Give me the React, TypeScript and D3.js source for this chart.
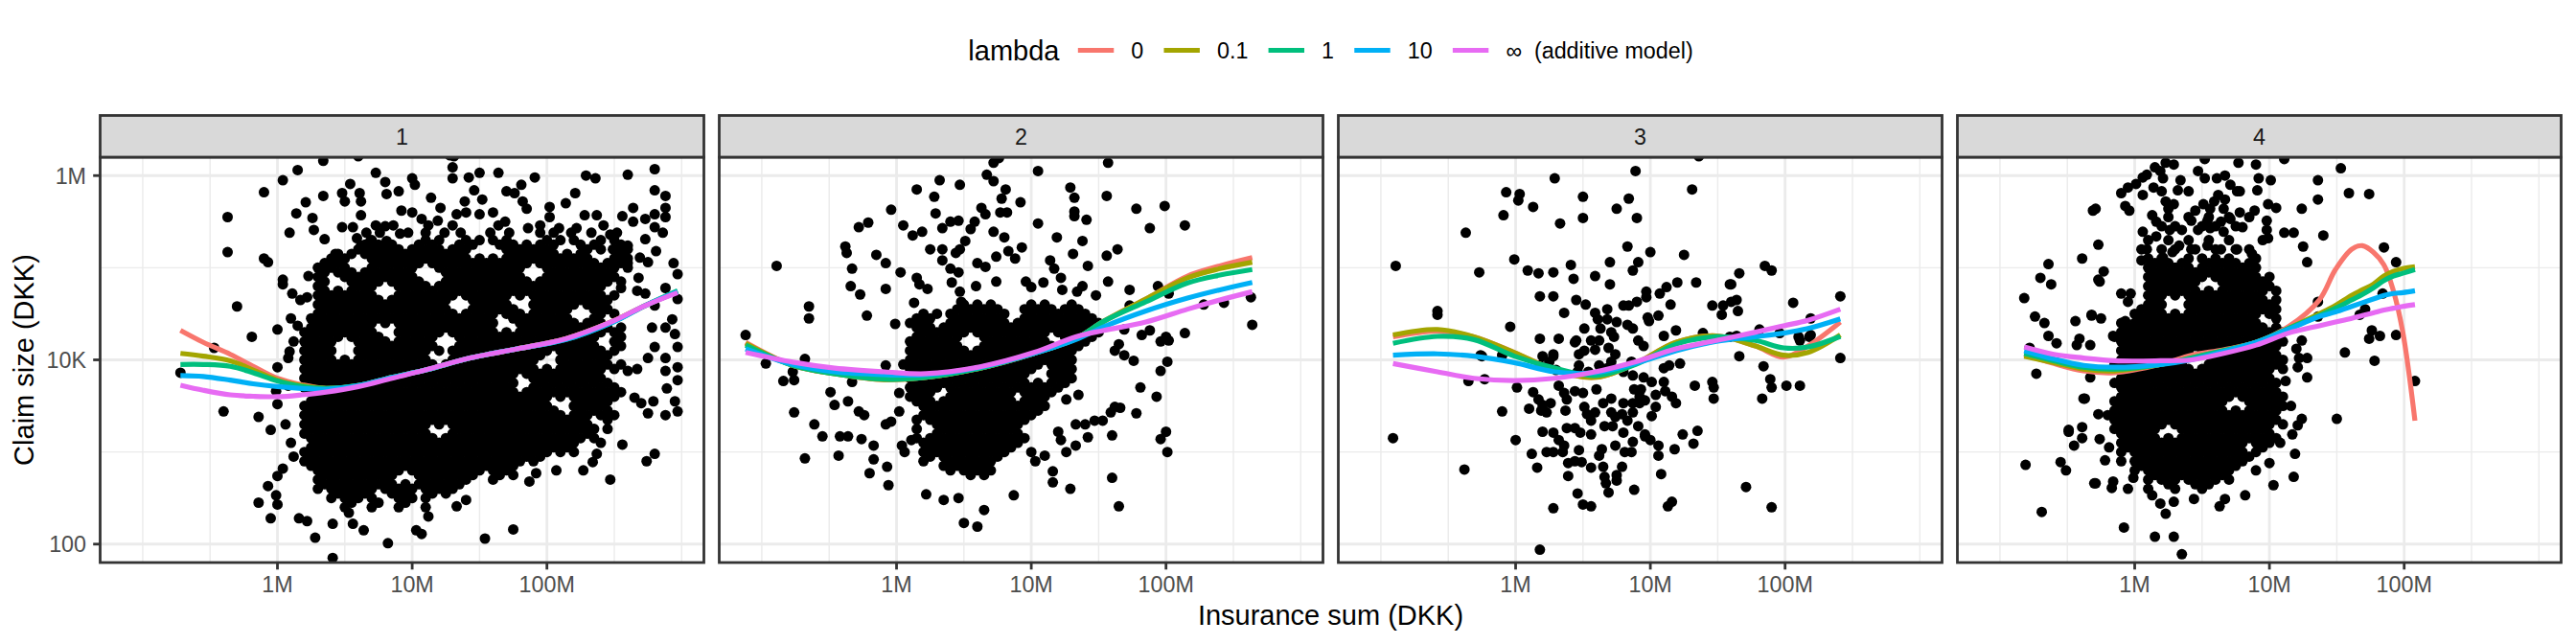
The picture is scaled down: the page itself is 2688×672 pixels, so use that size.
import { useEffect, useRef } from "react";
import * as d3 from "d3";

// Facets, legend and axis ticks
const facetLabels = ["1", "2", "3", "4"];
const lambdaLabels = ["0", "0.1", "1", "10", "\u221e\u00a0 (additive model)"];
const lambdaColors = ["#F8766D", "#A3A500", "#00BF7D", "#00B0F6", "#E76BF3"];

const xMajor = [6, 7, 8];
const xMajorLabels = ["1M", "10M", "100M"];
const xMinor = [5, 5.5, 6.5, 7.5, 8.5, 9];
const yMajor = [2, 4, 6];
const yMajorLabels = ["100", "10K", "1M"];
const yMinor = [3, 5];

// log10(insurance sum), log10(claim size)
type Pt = [number, number];
type Row = [number, number[]];

const loose1: Pt[] = [
  [5.28,3.86],[5.53,4.13],[5.60,3.44],[5.63,5.55],[5.63,5.17],[5.70,4.58],[5.81,4.25],[5.86,3.38],[5.90,5.82],[5.86,2.45],
  [5.95,2.28],[5.95,3.24],[6.00,4.33],[6.04,5.95],[6.15,6.06],[6.34,6.16],[6.28,2.07],[6.41,1.85],[6.16,2.28],[6.60,6.21],
  [7.28,6.22],[6.21,5.71],[6.14,5.59],[6.09,5.38],[6.34,5.78],[6.26,5.54],[6.54,5.91],[6.48,5.81],[6.61,5.81],[6.62,5.72],
  [6.73,6.03],[6.80,5.93],[6.81,5.80],[6.90,5.83],[7.00,5.97],[7.02,5.90],[7.14,5.76],[7.21,5.65],[7.30,6.09],[7.30,5.97],
  [7.31,6.21],[7.42,5.98],[7.50,6.03],[7.64,6.03],[7.46,5.84],[7.39,5.72],[7.52,5.74],[7.70,5.83],[7.76,5.81],[7.81,5.90],
  [7.82,5.72],[7.85,5.64],[7.91,5.98],[8.02,5.66],[8.14,5.70],[8.21,5.81],[8.29,6.00],[8.36,5.97],[8.60,6.01],[8.80,6.07],
  [8.80,5.84],[8.88,5.78],[8.88,5.65],[8.88,5.55],[8.64,5.65],[8.56,5.56],[8.28,5.57],[8.37,5.57],[8.80,5.58],[8.73,5.53],
  [8.86,5.38],[8.94,5.05],[8.97,4.93],[8.60,5.05],[8.88,4.78],[8.68,4.89],[8.55,4.78],[8.67,4.75],[8.73,4.72],[8.97,4.66],
  [8.80,4.59],[8.93,4.44],[8.88,4.35],[8.78,4.35],[8.95,4.28],[8.97,4.14],[8.80,4.14],[8.88,4.02],[8.75,4.02],[8.97,3.92],
  [8.88,3.88],[8.97,3.78],[8.89,3.69],[8.95,3.55],[8.97,3.44],[8.88,3.40],[8.75,3.42],[8.79,3.55],[8.65,3.59],[8.70,3.53],
  [8.60,3.88],[8.67,3.90],[8.56,3.08],[8.74,2.90],[8.80,2.98],[8.47,2.70],[8.27,2.80],[8.34,2.89],[8.37,2.98],[8.07,2.80],
  [7.92,2.77],[7.87,2.68],[7.75,2.16],[7.54,2.06],[7.33,2.41],[7.40,2.48],[7.07,2.11],[7.03,2.15],[7.12,2.30],[6.82,2.01],
  [6.64,2.15],[6.56,2.22],[6.53,2.34],[6.41,2.22],[6.22,2.25],[5.99,2.53],[6.00,2.43],[5.93,2.63],[6.00,2.74],[6.04,2.82],
  [6.00,3.52],[5.99,3.66],[6.00,3.92],[6.09,4.09],[6.08,4.02],[5.90,5.10],[5.93,5.06],[6.04,4.87],[6.04,4.82],[6.11,4.72],
  [6.22,4.68],[6.17,4.65],[6.10,4.45],[6.15,4.37],[6.23,4.91],[6.30,4.42],[6.34,4.98],[6.43,5.15],[6.35,5.31],[6.27,5.41],
  [6.48,5.44],[6.56,5.44],[6.59,5.32],[6.62,5.24],[6.69,5.29],[6.73,5.46],[6.80,5.45],[6.86,5.46],[6.91,5.37],[6.81,5.29],
  [6.81,5.17],[6.62,5.57],[6.50,5.72],[6.92,5.62],[7.00,5.60],[7.07,5.53],[7.19,5.51],[7.33,5.58],[7.40,5.60],[7.50,5.58],
  [7.60,5.60],[7.69,5.50],[7.86,5.43],[8.02,5.55],[8.09,5.43],[8.22,5.43],[8.47,5.36],[8.49,5.20],[8.60,5.24],[8.73,5.31],
  [8.80,5.44],[8.64,5.50],[8.75,5.06],[8.69,5.11],[8.81,5.18],[6.06,3.30],[6.10,3.10],[6.12,2.95],[6.08,3.72],[6.12,4.20],
];

// dense part of facet 1: one list of log10(sum) per log10(claim) level
const rows1: Row[] = [
  [5.46, [7.12,7.30,7.64,7.95,8.42]],
  [5.38, [6.66,6.76,6.97,7.10,7.24,7.36,7.58,7.72,7.95,8.05,8.18,8.33,8.52]],
  [5.30, [6.70,7.10,7.20,7.40,7.50,7.60,7.70,8.00,8.10,8.20,8.40,8.50]],
  [5.25, [6.65,6.75,6.85,7.05,7.15,7.35,7.45,7.65,7.75,7.85,7.95,8.05,8.25,8.35,8.55]],
  [5.20, [6.60,6.70,6.80,6.90,7.00,7.10,7.20,7.30,7.40,7.70,7.80,7.90,8.00,8.30,8.40,8.50,8.60]],
  [5.15, [6.45,6.55,6.65,6.75,6.85,6.95,7.05,7.15,7.25,7.35,7.75,7.85,7.95,8.05,8.15,8.25,8.55]],
  [5.10, [6.40,6.50,6.70,6.80,6.90,7.00,7.10,7.20,7.30,7.40,7.50,7.60,7.70,7.80,7.90,8.00,8.10,8.20,8.30,8.50,8.60]],
  [5.05, [6.35,6.45,6.75,6.85,6.95,7.05,7.15,7.25,7.35,7.45,7.55,7.65,7.75,7.85,7.95,8.05,8.15,8.25,8.35,8.45,8.55]],
  [5.00, [6.30,6.40,6.50,6.70,6.80,6.90,7.00,7.20,7.30,7.40,7.50,7.60,7.70,7.80,8.00,8.10,8.20,8.30,8.40,8.50,8.60]],
  [4.95, [6.35,6.45,6.55,6.65,6.75,6.85,6.95,7.25,7.35,7.45,7.55,7.65,7.75,8.05,8.15,8.25,8.35,8.45]],
  [4.90, [6.30,6.50,6.60,6.70,6.80,6.90,7.00,7.30,7.40,7.50,7.60,7.70,7.80,8.00,8.10,8.20,8.30,8.40,8.50]],
  [4.85, [6.35,6.55,6.65,6.75,6.85,6.95,7.05,7.25,7.35,7.45,7.55,7.65,7.75,7.85,7.95,8.05,8.15,8.25,8.35,8.45,8.55]],
  [4.80, [6.30,6.60,6.70,6.90,7.00,7.10,7.20,7.30,7.40,7.50,7.60,7.70,7.80,7.90,8.00,8.10,8.20,8.30,8.40]],
  [4.75, [6.35,6.45,6.55,6.65,6.95,7.05,7.15,7.25,7.35,7.45,7.55,7.65,7.75,7.85,7.95,8.05,8.15,8.25,8.35]],
  [4.70, [6.30,6.40,6.50,6.60,6.70,6.90,7.00,7.10,7.20,7.30,7.40,7.50,7.60,7.70,7.80,7.90,8.00,8.10,8.20,8.30,8.40,8.50]],
  [4.65, [6.35,6.45,6.55,6.65,6.75,6.85,6.95,7.05,7.15,7.25,7.45,7.55,7.65,7.95,8.05,8.15,8.25,8.35,8.45]],
  [4.60, [6.30,6.40,6.50,6.60,6.70,6.80,6.90,7.00,7.10,7.20,7.50,7.60,7.70,7.90,8.00,8.10,8.20,8.30,8.40]],
  [4.55, [6.35,6.45,6.55,6.65,6.75,6.85,6.95,7.05,7.15,7.25,7.45,7.55,7.65,7.75,7.95,8.05,8.15,8.35,8.45]],
  [4.50, [6.30,6.40,6.50,6.60,6.70,6.80,6.90,7.00,7.10,7.20,7.30,7.40,7.50,7.60,7.70,7.80,7.90,8.00,8.10,8.40,8.50]],
  [4.45, [6.25,6.35,6.45,6.55,6.65,6.75,6.85,6.95,7.05,7.15,7.25,7.35,7.45,7.55,7.75,7.85,7.95,8.05,8.15,8.35]],
  [4.40, [6.30,6.40,6.50,6.60,6.70,6.80,6.90,7.00,7.10,7.20,7.30,7.40,7.50,7.60,7.80,7.90,8.00,8.10,8.20,8.30,8.40]],
  [4.35, [6.25,6.35,6.45,6.55,6.65,6.95,7.05,7.15,7.25,7.35,7.45,7.55,7.85,7.95,8.05,8.15,8.25,8.35,8.45,8.55]],
  [4.30, [6.20,6.30,6.40,6.50,6.60,6.70,6.90,7.00,7.10,7.20,7.30,7.40,7.50,7.60,7.70,7.80,7.90,8.00,8.10,8.20,8.30,8.40,8.50]],
  [4.25, [6.25,6.35,6.45,6.55,6.65,6.75,6.95,7.05,7.15,7.35,7.45,7.55,7.65,7.75,7.85,7.95,8.05,8.15,8.25,8.35,8.55]],
  [4.20, [6.20,6.30,6.40,6.60,6.70,6.80,6.90,7.00,7.10,7.40,7.50,7.60,7.70,7.80,7.90,8.00,8.10,8.20,8.30,8.50]],
  [4.15, [6.25,6.35,6.65,6.75,6.85,6.95,7.05,7.15,7.35,7.45,7.55,7.65,7.75,7.85,7.95,8.05,8.15,8.25,8.35,8.55]],
  [4.10, [6.20,6.30,6.40,6.60,6.70,6.80,6.90,7.00,7.10,7.20,7.30,7.40,7.50,7.60,7.70,7.80,7.90,8.00,8.10,8.20,8.30,8.40,8.50]],
  [4.05, [6.25,6.35,6.65,6.75,6.85,6.95,7.05,7.35,7.45,7.55,7.65,7.75,7.85,7.95,8.15,8.25,8.35,8.45]],
  [4.00, [6.20,6.30,6.40,6.50,6.60,6.70,6.80,6.90,7.00,7.10,7.30,7.40,7.50,7.60,7.70,7.80,7.90,8.10,8.20,8.30,8.40]],
  [3.95, [6.25,6.35,6.45,6.55,6.65,6.75,6.85,6.95,7.05,7.15,7.25,7.35,7.45,7.55,7.65,7.75,7.85,8.15,8.25,8.35,8.45,8.55]],
  [3.90, [6.20,6.30,6.40,6.50,6.60,6.70,6.80,6.90,7.00,7.10,7.20,7.30,7.40,7.50,7.60,7.70,7.80,7.90,8.00,8.10,8.20,8.30,8.40,8.50]],
  [3.85, [6.25,6.35,6.45,6.55,6.65,6.75,6.85,6.95,7.05,7.15,7.25,7.35,7.45,7.55,7.65,7.75,7.85,7.95,8.05,8.15,8.25,8.35]],
  [3.80, [6.20,6.30,6.40,6.50,6.60,6.70,6.80,6.90,7.00,7.10,7.20,7.30,7.40,7.50,7.60,7.70,7.90,8.00,8.10,8.20,8.30,8.40]],
  [3.75, [6.25,6.35,6.45,6.55,6.65,6.75,6.85,6.95,7.05,7.15,7.25,7.35,7.45,7.55,7.65,7.75,7.95,8.05,8.15,8.25,8.35,8.45]],
  [3.70, [6.20,6.30,6.40,6.50,6.60,6.70,6.80,6.90,7.00,7.10,7.20,7.30,7.40,7.50,7.60,7.70,7.90,8.00,8.10,8.20,8.30,8.40,8.50]],
  [3.65, [6.25,6.35,6.45,6.55,6.65,6.75,6.85,6.95,7.05,7.15,7.25,7.35,7.45,7.55,7.65,7.75,7.85,7.95,8.05,8.15,8.25,8.35,8.45,8.55]],
  [3.60, [6.30,6.40,6.50,6.60,6.70,6.80,6.90,7.00,7.10,7.20,7.30,7.40,7.50,7.60,7.70,7.80,7.90,8.00,8.10,8.20,8.30,8.40,8.50]],
  [3.55, [6.25,6.35,6.45,6.55,6.65,6.75,6.85,6.95,7.05,7.15,7.25,7.35,7.45,7.55,7.65,7.75,7.85,7.95,8.25,8.35,8.45]],
  [3.50, [6.20,6.30,6.40,6.50,6.60,6.70,6.80,6.90,7.00,7.10,7.20,7.30,7.40,7.50,7.60,7.70,7.80,7.90,8.00,8.20,8.30,8.40]],
  [3.45, [6.25,6.35,6.45,6.55,6.65,6.75,6.85,6.95,7.05,7.15,7.25,7.35,7.45,7.55,7.65,7.75,7.85,7.95,8.05,8.25,8.35,8.45]],
  [3.40, [6.20,6.30,6.40,6.50,6.60,6.70,6.80,6.90,7.00,7.10,7.20,7.30,7.40,7.50,7.60,7.70,7.80,7.90,8.00,8.10,8.20,8.30,8.40,8.50]],
  [3.35, [6.25,6.35,6.45,6.55,6.65,6.75,6.85,6.95,7.05,7.15,7.25,7.35,7.45,7.55,7.65,7.75,7.85,7.95,8.05,8.15,8.25,8.45]],
  [3.30, [6.20,6.30,6.40,6.50,6.60,6.70,6.80,6.90,7.00,7.10,7.20,7.30,7.40,7.50,7.60,7.70,7.80,7.90,8.00,8.10,8.20,8.30]],
  [3.25, [6.25,6.35,6.45,6.55,6.65,6.75,6.85,6.95,7.05,7.35,7.45,7.55,7.65,7.75,7.85,7.95,8.05,8.15,8.25,8.35,8.45]],
  [3.20, [6.20,6.30,6.40,6.50,6.60,6.70,6.80,6.90,7.00,7.10,7.30,7.40,7.50,7.60,7.70,7.80,7.90,8.00,8.10,8.20,8.30]],
  [3.15, [6.25,6.35,6.45,6.55,6.65,6.75,6.85,6.95,7.05,7.15,7.25,7.35,7.45,7.55,7.65,7.75,7.85,7.95,8.05,8.15,8.25,8.35]],
  [3.10, [6.30,6.40,6.50,6.60,6.70,6.80,6.90,7.00,7.10,7.20,7.30,7.40,7.50,7.60,7.70,7.80,7.90,8.00,8.10,8.20,8.40]],
  [3.05, [6.25,6.35,6.45,6.55,6.65,6.75,6.85,6.95,7.05,7.15,7.25,7.35,7.45,7.55,7.65,7.75,7.85,7.95,8.05,8.15]],
  [3.00, [6.20,6.30,6.40,6.50,6.60,6.70,6.80,6.90,7.00,7.10,7.20,7.30,7.40,7.50,7.60,7.70,7.80,7.90,8.00,8.10,8.20]],
  [2.95, [6.25,6.35,6.45,6.55,6.65,6.75,6.85,6.95,7.05,7.15,7.25,7.35,7.45,7.55,7.65,7.75,7.85,7.95]],
  [2.90, [6.20,6.30,6.40,6.50,6.60,6.70,6.80,6.90,7.00,7.10,7.20,7.30,7.40,7.50,7.60,7.70,7.80,7.90]],
  [2.85, [6.25,6.35,6.45,6.55,6.65,6.75,6.85,6.95,7.05,7.15,7.25,7.35,7.45,7.55,7.65,7.75]],
  [2.80, [6.30,6.40,6.50,6.60,6.70,6.80,6.90,7.00,7.10,7.20,7.30,7.40,7.50,7.60,7.70]],
  [2.75, [6.35,6.45,6.55,6.65,6.75,6.85,7.05,7.15,7.25,7.35,7.45,7.65,7.75]],
  [2.70, [6.30,6.40,6.50,6.60,6.70,6.80,7.10,7.20,7.30,7.40,7.60]],
  [2.65, [6.35,6.45,6.55,6.65,6.75,6.85,6.95,7.05,7.15,7.25,7.35]],
  [2.60, [6.30,6.40,6.50,6.60,6.70,6.80,6.90,7.00,7.10,7.20,7.30]],
  [2.55, [6.45,6.55,6.65,6.85,6.95,7.15,7.25]],
  [2.50, [6.40,6.50,6.60,6.70,6.90,7.00,7.10]],
  [2.45, [6.55,6.75,6.95]],
  [2.40, [6.50,6.70,6.90,7.10]],
];

const loose2: Pt[] = [
  [6.72,6.14],[6.76,6.19],[7.57,6.14],[7.05,6.05],[6.67,6.01],[6.72,5.94],[6.32,5.95],[6.47,5.90],[6.15,5.85],[6.28,5.77],
  [6.81,5.85],[6.78,5.75],[6.77,5.60],[6.82,5.60],[6.92,5.71],[7.29,5.87],[7.32,5.76],[7.56,5.78],[7.78,5.64],[7.99,5.67],
  [5.96,5.63],[6.29,5.59],[6.63,5.65],[6.66,5.58],[7.32,5.61],[7.32,5.56],[7.41,5.52],[6.46,5.51],[6.40,5.50],[6.34,5.43],
  [6.05,5.46],[5.72,5.44],[5.79,5.49],[6.12,5.35],[6.19,5.39],[6.55,5.42],[6.58,5.50],[6.72,5.39],[6.80,5.33],[7.05,5.48],
  [7.19,5.33],[7.88,5.43],[8.14,5.46],[6.51,5.29],[6.44,5.16],[6.47,5.20],[6.25,5.20],[6.34,5.20],[5.62,5.23],[5.63,5.16],
  [5.85,5.14],[5.92,5.05],[5.67,4.99],[5.11,5.02],[6.03,4.95],[6.34,5.08],[6.40,4.99],[6.46,4.95],[6.60,5.05],[6.66,5.01],
  [6.74,5.12],[6.83,5.18],[6.88,5.10],[6.93,5.22],[7.14,5.08],[7.17,4.99],[7.31,5.15],[7.38,5.29],[7.42,5.02],[7.56,5.13],
  [7.64,5.20],[7.57,4.85],[7.38,4.80],[5.66,4.80],[5.73,4.71],[5.92,4.77],[6.15,4.89],[6.17,4.82],[6.13,4.62],[6.23,4.77],
  [6.41,4.84],[6.47,4.74],[6.48,4.63],[6.59,4.80],[6.74,4.85],[6.96,4.85],[7.00,4.79],[7.09,4.84],[7.22,4.89],[7.23,4.76],
  [7.34,4.74],[7.48,4.70],[7.73,4.76],[7.94,4.80],[8.02,4.72],[5.35,4.58],[5.35,4.45],[5.78,4.48],[5.99,4.39],[8.28,4.60],
  [8.43,4.62],[8.63,4.68],[8.64,4.38],[8.14,4.29],[8.00,4.25],[8.02,4.21],[7.96,4.20],[7.82,4.27],[7.88,4.32],[7.69,4.33],
  [7.65,4.17],[7.73,4.59],[7.62,4.10],[7.69,4.05],[7.76,3.99],[8.01,3.98],[7.96,3.88],[7.81,3.70],[7.93,3.60],[7.78,3.42],
  [7.66,3.48],[7.59,3.43],[7.53,3.34],[7.60,3.18],[7.47,3.34],[8.00,3.22],[7.96,3.14],[8.01,3.00],[7.60,2.72],[7.65,2.41],
  [7.29,2.60],[7.16,2.67],[7.16,2.79],[6.87,2.53],[6.65,2.37],[6.60,2.19],[6.50,2.23],[6.35,2.48],[6.46,2.50],[6.22,2.54],
  [5.94,2.64],[5.93,2.84],[5.83,2.92],[5.80,2.77],[5.83,3.07],[5.57,2.96],[5.32,2.93],[5.45,3.17],[5.58,3.17],[5.64,3.17],
  [5.74,3.14],[5.39,3.30],[5.24,3.43],[5.54,3.51],[5.64,3.55],[5.72,3.44],[5.76,3.40],[5.51,3.65],[5.16,3.77],[5.24,3.78],
  [5.23,3.87],[5.32,4.01],[5.03,3.96],[4.88,4.27],[5.67,3.76],[5.92,3.94],[5.92,3.30],[5.96,3.33],[6.02,3.44],[6.02,3.64],
  [6.04,3.07],[6.11,3.13],[6.06,3.00],[7.03,2.90],[7.00,3.00],[7.10,2.96],[7.26,3.00],[7.33,3.07],[7.42,3.16],[7.22,3.13],
  [7.20,3.22],[7.33,3.30],[7.40,3.30],[7.62,3.49],[7.35,3.62],[7.26,3.57],
];

const rows2: Row[] = [
  [4.60, [6.50,6.60,6.70,7.00,7.10,7.30]],
  [4.55, [6.45,6.55,6.65,6.75,6.95,7.05,7.15,7.25,7.35]],
  [4.50, [6.20,6.30,6.40,6.50,6.60,6.70,6.80,7.00,7.10,7.20,7.30,7.40]],
  [4.45, [6.15,6.25,6.45,6.55,6.65,6.75,6.95,7.05,7.15,7.25,7.35,7.45]],
  [4.40, [6.10,6.20,6.40,6.50,6.60,6.70,6.80,6.90,7.00,7.10,7.20,7.30,7.40,7.50]],
  [4.35, [6.15,6.25,6.35,6.45,6.55,6.65,6.75,6.85,6.95,7.05,7.15,7.25,7.35,7.45]],
  [4.30, [6.20,6.30,6.40,6.50,6.60,6.70,6.80,6.90,7.00,7.10,7.20,7.30,7.40,7.50]],
  [4.25, [6.15,6.25,6.35,6.45,6.65,6.75,6.85,6.95,7.05,7.25,7.35,7.45]],
  [4.20, [6.10,6.20,6.30,6.40,6.70,6.80,6.90,7.00,7.10,7.30,7.40]],
  [4.15, [6.15,6.25,6.35,6.45,6.65,6.75,6.85,6.95,7.05,7.15,7.25,7.35]],
  [4.10, [6.10,6.20,6.30,6.40,6.50,6.60,6.70,6.80,6.90,7.00,7.10,7.20,7.30]],
  [4.05, [6.15,6.25,6.35,6.45,6.55,6.65,6.75,6.85,6.95,7.05,7.15,7.25]],
  [4.00, [6.10,6.20,6.30,6.40,6.50,6.60,6.70,6.80,6.90,7.00,7.10,7.20,7.30]],
  [3.95, [6.05,6.15,6.25,6.35,6.45,6.55,6.65,6.75,6.85,6.95,7.05,7.15,7.25]],
  [3.90, [6.10,6.20,6.30,6.40,6.50,6.60,6.70,6.80,6.90,7.00,7.20,7.30]],
  [3.85, [6.15,6.25,6.35,6.45,6.55,6.65,6.75,6.85,6.95,7.15,7.25]],
  [3.80, [6.10,6.20,6.30,6.40,6.50,6.60,6.70,6.80,6.90,7.20,7.30]],
  [3.75, [6.15,6.25,6.35,6.45,6.55,6.65,6.75,6.85,6.95,7.05,7.15,7.25]],
  [3.70, [6.10,6.20,6.30,6.40,6.50,6.60,6.70,6.80,6.90,7.00,7.10,7.20]],
  [3.65, [6.15,6.25,6.45,6.55,6.65,6.75,6.85,6.95,7.05,7.15]],
  [3.60, [6.10,6.20,6.40,6.50,6.60,6.70,6.80,7.00,7.10]],
  [3.55, [6.15,6.25,6.35,6.45,6.55,6.65,6.75,6.85,6.95,7.05]],
  [3.50, [6.20,6.30,6.40,6.50,6.60,6.70,6.80,6.90,7.00,7.10]],
  [3.45, [6.25,6.35,6.45,6.55,6.65,6.75,6.85,6.95,7.05]],
  [3.40, [6.20,6.30,6.40,6.50,6.60,6.70,6.80,6.90,7.00]],
  [3.35, [6.15,6.25,6.35,6.45,6.55,6.65,6.75,6.85,6.95]],
  [3.30, [6.30,6.40,6.50,6.60,6.70,6.80,6.90]],
  [3.25, [6.15,6.35,6.45,6.55,6.65,6.75,6.85]],
  [3.20, [6.30,6.40,6.50,6.60,6.70,6.80,6.90]],
  [3.15, [6.15,6.25,6.35,6.45,6.55,6.65,6.75,6.85,6.95]],
  [3.10, [6.20,6.30,6.40,6.50,6.60,6.70,6.80,6.90]],
  [3.05, [6.25,6.35,6.45,6.55,6.65,6.75,6.85]],
  [3.00, [6.20,6.30,6.40,6.50,6.60,6.70,6.80]],
  [2.95, [6.25,6.35,6.45,6.55,6.65,6.75]],
  [2.90, [6.20,6.40,6.50,6.60,6.70]],
  [2.85, [6.35,6.45,6.55,6.65]],
  [2.80, [6.40,6.50,6.60,6.70]],
  [2.75, [6.55,6.65]],
];

const loose3: Pt[] = [
  [7.36,6.21],[6.89,6.05],[6.29,5.97],[7.31,5.85],[5.93,5.82],[6.03,5.80],[6.02,5.73],[6.50,5.77],[6.84,5.75],[6.13,5.66],
  [5.91,5.57],[6.75,5.64],[6.50,5.54],[6.90,5.54],[6.33,5.48],[5.63,5.38],[6.83,5.23],[7.00,5.17],[7.25,5.14],[6.91,5.06],
  [6.87,4.97],[5.99,5.09],[6.09,4.97],[6.17,4.94],[6.28,4.95],[5.73,4.95],[6.41,5.03],[6.43,4.88],[6.59,4.91],[6.70,5.06],
  [6.70,4.82],[5.11,5.02],[7.66,4.94],[7.60,4.82],[7.85,5.02],[7.90,4.97],[7.34,4.84],[7.20,4.84],[7.12,4.79],[7.07,4.72],
  [6.97,4.74],[6.97,4.68],[7.15,4.60],[7.06,4.48],[6.99,4.42],[6.18,4.69],[6.28,4.69],[6.45,4.65],[6.52,4.60],[6.36,4.51],
  [6.59,4.51],[6.68,4.55],[6.84,4.59],[6.80,4.59],[6.90,4.63],[6.61,4.44],[6.75,4.41],[6.71,4.30],[6.63,4.34],[6.51,4.34],
  [6.87,4.34],[6.91,4.21],[6.95,4.15],[6.73,4.25],[6.69,4.13],[6.74,4.06],[6.59,4.11],[6.51,4.10],[6.47,4.06],[6.44,4.19],
  [6.18,4.23],[5.96,4.36],[5.42,4.49],[5.42,4.53],[5.74,4.05],[5.90,4.05],[6.20,4.04],[6.28,4.04],[6.18,3.94],[6.25,3.98],
  [6.30,3.89],[6.47,3.94],[6.54,3.87],[6.62,3.94],[6.68,3.91],[6.86,3.98],[6.87,3.83],[6.95,3.81],[7.01,3.76],[6.88,3.68],
  [6.92,3.60],[6.87,3.53],[6.87,3.43],[6.91,3.28],[7.04,3.62],[7.04,3.49],[7.01,3.39],[7.10,3.91],[7.10,3.76],[7.11,3.66],
  [7.16,3.60],[7.19,3.53],[7.14,3.94],[7.19,4.32],[7.10,4.26],[7.39,4.29],[7.22,3.96],[7.33,3.72],[7.46,3.76],[7.47,3.58],
  [7.66,4.04],[7.59,4.25],[7.81,4.33],[7.84,3.93],[7.89,3.79],[7.90,3.70],[7.83,3.58],[8.01,3.72],[8.11,3.72],[8.11,4.21],
  [8.19,4.27],[8.19,4.45],[8.06,4.62],[7.96,4.29],[8.41,4.69],[8.41,4.02],[7.46,4.59],[7.54,4.59],[7.53,4.49],[7.60,4.63],
  [7.64,4.65],[7.65,4.53],[7.59,4.82],[5.75,4.04],[5.65,3.77],[5.77,3.79],[5.09,3.15],[5.62,2.81],[5.90,3.44],[6.01,3.70],
  [6.00,3.13],[6.10,3.47],[6.13,3.65],[6.17,3.57],[6.20,3.51],[6.26,3.53],[6.32,3.72],[6.36,3.64],[6.37,3.45],[6.44,3.66],
  [6.46,3.87],[6.45,4.21],[6.51,3.49],[6.53,3.41],[6.56,3.34],[6.65,3.53],[6.71,3.58],[6.79,3.41],[6.72,3.28],[6.66,3.28],
  [6.80,3.21],[6.96,3.19],[7.00,3.13],[7.06,3.07],[6.87,3.11],[6.81,3.00],[6.86,3.00],[6.74,3.07],[6.64,3.03],[6.62,2.96],
  [6.47,3.02],[6.39,2.88],[6.36,3.07],[6.32,3.13],[6.28,3.21],[6.20,3.22],[6.38,3.26],[6.44,3.26],[6.48,3.21],[6.23,3.00],
  [6.28,3.00],[6.35,3.00],[6.16,2.83],[6.12,2.98],[6.44,2.90],[6.49,2.89],[6.56,2.83],[6.65,2.84],[6.66,2.73],[6.67,2.66],
  [6.75,2.75],[6.75,2.69],[6.69,2.56],[6.39,2.74],[6.46,2.55],[6.50,2.43],[6.56,2.41],[6.88,2.59],[7.08,2.76],[7.13,2.41],
  [7.16,2.46],[6.28,2.39],[6.18,1.94],[7.71,2.62],[7.90,2.40],[7.18,3.03],[7.24,3.19],[7.32,3.09],[7.35,3.23],[7.06,2.96],
  [6.96,3.17],[7.47,3.70],[6.79,2.84],[6.19,3.45],[6.23,3.43],[6.56,3.19],[6.83,3.34],[6.74,3.38],[6.93,3.68],[6.60,3.68],
  [6.50,3.64],[6.38,3.57],[6.98,4.46],[6.83,4.38],[6.68,4.44],[6.56,4.21],[6.62,4.21],[6.28,4.06],[6.32,4.23],[6.71,3.98],
  [6.80,3.87],[6.96,3.56],[6.92,3.53],[6.80,3.53],[6.71,3.43],[6.59,3.43],[7.64,4.26],[8.18,4.25],[8.10,4.25],
];

const loose4: Pt[] = [
  [6.23,6.14],[6.29,6.12],[6.15,6.09],[6.19,6.05],[6.52,6.18],[6.77,6.14],[6.90,6.12],[7.11,6.18],[6.47,6.05],[6.52,5.97],
  [6.61,5.97],[6.67,6.00],[6.06,5.98],[6.01,5.91],[6.09,6.01],[6.21,5.97],[6.34,5.95],[6.40,5.83],[6.32,5.84],[6.20,5.83],
  [6.14,5.87],[5.95,5.87],[5.90,5.81],[6.06,5.79],[5.93,5.67],[5.96,5.62],[6.23,5.72],[6.29,5.69],[6.25,5.64],[6.71,5.90],
  [6.76,5.83],[6.78,5.83],[6.92,5.97],[7.01,5.95],[6.91,5.84],[6.62,5.79],[6.67,5.74],[6.59,5.72],[6.56,5.64],[6.66,5.64],
  [6.51,5.69],[6.45,5.62],[6.78,5.60],[6.89,5.62],[6.99,5.69],[7.05,5.65],[6.98,5.51],[6.80,5.44],[6.71,5.53],[6.64,5.50],
  [6.54,5.51],[6.42,5.51],[6.35,5.41],[6.47,5.41],[6.56,5.43],[6.66,5.39],[6.26,5.41],[6.13,5.57],[6.16,5.50],[6.06,5.39],
  [6.16,5.34],[6.99,5.32],[6.98,5.41],[5.73,5.25],[6.76,5.20],[6.87,5.15],[6.64,5.20],[6.54,5.24],[6.33,5.24],[6.42,5.20],
  [6.28,5.17],[6.21,5.11],[6.09,5.20],[6.05,5.08],[6.12,5.01],[7.53,6.08],[7.36,5.95],[7.36,5.74],[7.59,5.81],[7.74,5.80],
  [7.24,5.64],[7.40,5.35],[7.11,5.38],[7.18,5.38],[7.25,5.23],[7.28,5.06],[7.85,5.22],[7.94,5.06],[7.84,4.72],[7.36,4.63],
  [7.36,4.47],[7.71,4.55],[7.67,4.49],[7.76,4.32],[7.82,4.26],[7.74,4.23],[7.94,4.27],[7.56,4.08],[7.78,3.99],[8.08,3.77],
  [7.50,3.36],[7.24,4.21],[7.20,4.12],[7.22,4.02],[7.28,4.02],[7.21,3.92],[7.28,3.81],[7.12,3.77],[7.16,3.50],[7.24,3.36],
  [7.21,3.29],[7.17,3.19],[7.08,3.10],[7.19,2.98],[7.18,2.73],[7.03,2.64],[7.00,2.88],[6.82,2.53],[6.67,2.49],[6.63,2.41],
  [6.44,2.49],[6.29,2.46],[6.23,2.33],[6.19,2.44],[6.13,2.53],[6.29,2.08],[6.15,2.08],[6.35,1.89],[5.92,2.18],[5.31,2.35],
  [5.71,2.66],[5.83,2.61],[5.84,2.68],[5.95,2.60],[5.99,2.72],[5.45,2.89],[5.49,2.80],[5.55,3.07],[5.61,3.15],[5.51,3.24],
  [5.74,3.14],[5.81,3.05],[5.78,2.91],[5.62,3.58],[5.73,3.41],[5.67,3.81],[5.57,4.16],[5.59,4.23],[5.67,4.16],[5.56,4.42],
  [5.68,4.49],[5.75,4.45],[5.84,4.26],[5.93,4.42],[6.02,4.16],[5.90,4.72],[5.97,4.72],[5.95,4.63],[5.74,4.85],[5.77,4.96],
  [5.61,5.10],[5.38,4.82],[5.30,4.89],[5.36,5.04],[5.26,4.47],[5.33,4.40],[5.36,4.26],[5.42,4.18],[5.27,3.85],[5.69,5.62],
  [5.71,5.64],[5.63,3.58],[5.18,4.67],[5.22,4.13],[5.19,2.86],[5.73,4.87],[5.68,4.48],[5.51,3.22],[5.61,3.27],[5.70,2.66],
];

const rows4: Row[] = [
  [5.55, [6.25,6.40,6.55,6.70,6.85]],
  [5.45, [6.20,6.30,6.50,6.60,6.75]],
  [5.30, [6.10,6.25,6.40,6.55,6.70,6.95]],
  [5.20, [6.05,6.20,6.30,6.45,6.60,6.75,6.85]],
  [5.10, [6.10,6.20,6.40,6.50,6.60,6.70,6.90]],
  [5.05, [6.15,6.25,6.35,6.55,6.65,6.75,6.85]],
  [5.00, [6.10,6.20,6.30,6.40,6.50,6.60,6.70,6.80,6.90]],
  [4.95, [6.15,6.25,6.35,6.45,6.55,6.65,6.75,6.85]],
  [4.90, [6.10,6.20,6.30,6.40,6.50,6.60,6.70,6.80,6.90,7.00]],
  [4.85, [6.15,6.25,6.35,6.45,6.65,6.75,6.85,6.95]],
  [4.80, [6.10,6.20,6.30,6.40,6.70,6.80,6.90,7.00]],
  [4.75, [6.15,6.25,6.35,6.45,6.55,6.65,6.75,6.85,6.95,7.05]],
  [4.70, [6.10,6.20,6.30,6.40,6.50,6.60,6.70,6.80,6.90]],
  [4.65, [6.15,6.45,6.55,6.65,6.75,6.85,6.95,7.05]],
  [4.60, [6.10,6.20,6.40,6.50,6.60,6.70,6.80,6.90,7.00]],
  [4.55, [6.05,6.15,6.45,6.55,6.65,6.75,6.85,6.95,7.05]],
  [4.50, [6.00,6.10,6.20,6.30,6.40,6.50,6.60,6.70,6.80,6.90,7.00]],
  [4.45, [6.05,6.15,6.25,6.35,6.45,6.55,6.65,6.75,6.85,7.05]],
  [4.40, [5.90,6.00,6.10,6.20,6.30,6.40,6.50,6.60,6.70,6.80,6.90]],
  [4.35, [5.95,6.05,6.15,6.25,6.35,6.45,6.55,6.65,6.75,6.85,6.95,7.05]],
  [4.30, [5.90,6.00,6.10,6.20,6.30,6.40,6.50,6.60,6.70,6.80,6.90,7.00,7.10]],
  [4.25, [5.85,5.95,6.05,6.15,6.25,6.35,6.45,6.55,6.65,6.75,6.85,6.95,7.05]],
  [4.20, [5.90,6.00,6.10,6.20,6.30,6.40,6.50,6.60,6.70,6.80,6.90,7.00,7.10]],
  [4.15, [5.95,6.05,6.15,6.25,6.35,6.45,6.55,6.65,6.75,6.85,6.95,7.05]],
  [4.10, [5.90,6.00,6.10,6.20,6.30,6.40,6.50,6.60,6.70,6.80,6.90,7.00]],
  [4.05, [5.95,6.05,6.15,6.25,6.35,6.55,6.65,6.75,6.85,6.95,7.05]],
  [4.00, [5.90,6.00,6.10,6.20,6.30,6.60,6.70,6.80,6.90,7.00,7.10]],
  [3.95, [5.85,5.95,6.05,6.15,6.25,6.35,6.55,6.65,6.75,6.85,6.95,7.05]],
  [3.90, [5.90,6.00,6.10,6.20,6.30,6.40,6.50,6.60,6.70,6.80,6.90,7.00,7.10]],
  [3.85, [5.95,6.05,6.15,6.25,6.35,6.45,6.55,6.65,6.75,6.85,6.95]],
  [3.80, [5.90,6.00,6.10,6.20,6.30,6.40,6.50,6.60,6.70,6.80,6.90,7.00]],
  [3.75, [5.85,5.95,6.05,6.15,6.25,6.35,6.45,6.55,6.65,6.75,6.85,6.95,7.05]],
  [3.70, [5.90,6.00,6.10,6.20,6.30,6.40,6.50,6.60,6.70,6.80,6.90,7.00]],
  [3.65, [5.95,6.05,6.15,6.25,6.35,6.45,6.55,6.65,6.75,6.85,6.95,7.05]],
  [3.60, [5.90,6.00,6.10,6.20,6.30,6.40,6.50,6.60,6.70,6.80,6.90,7.00,7.10]],
  [3.55, [5.85,5.95,6.05,6.15,6.25,6.35,6.45,6.55,6.65,6.85,6.95,7.05]],
  [3.50, [5.90,6.00,6.10,6.20,6.30,6.40,6.50,6.60,6.90,7.00,7.10]],
  [3.45, [5.85,5.95,6.05,6.15,6.25,6.35,6.45,6.55,6.65,6.75,6.85,6.95,7.05]],
  [3.40, [5.80,5.90,6.00,6.10,6.20,6.30,6.40,6.50,6.60,6.70,6.80,6.90,7.00]],
  [3.35, [5.85,5.95,6.05,6.15,6.25,6.35,6.45,6.55,6.65,6.75,6.85,6.95,7.05]],
  [3.30, [5.90,6.00,6.10,6.20,6.30,6.40,6.50,6.60,6.70,6.80,6.90,7.00,7.10]],
  [3.25, [5.85,5.95,6.05,6.15,6.35,6.45,6.55,6.65,6.75,6.85,6.95]],
  [3.20, [5.90,6.00,6.10,6.40,6.50,6.60,6.70,6.80,6.90,7.00]],
  [3.15, [5.95,6.05,6.15,6.25,6.35,6.45,6.55,6.65,6.75,6.85,6.95,7.05]],
  [3.10, [5.90,6.00,6.10,6.20,6.30,6.40,6.50,6.60,6.70,6.80,6.90,7.00]],
  [3.05, [5.95,6.05,6.15,6.25,6.35,6.45,6.55,6.65,6.75,6.95]],
  [3.00, [5.90,6.00,6.10,6.20,6.30,6.40,6.50,6.60,6.70,6.80,6.90]],
  [2.95, [6.05,6.15,6.25,6.35,6.45,6.55,6.65,6.75,6.85]],
  [2.90, [5.90,6.00,6.10,6.20,6.30,6.40,6.50,6.60,6.70,6.80]],
  [2.85, [6.05,6.15,6.25,6.35,6.45,6.55,6.65,6.75]],
  [2.80, [6.00,6.10,6.20,6.30,6.40,6.50,6.60,6.70,6.90]],
  [2.75, [6.15,6.25,6.35,6.45,6.55,6.65]],
  [2.70, [6.10,6.20,6.30,6.40,6.50,6.60,6.70]],
  [2.65, [6.25,6.45,6.55]],
  [2.60, [6.10,6.30,6.50]],
];

// Fitted curves per facet: x grid, then one series per lambda (0, 0.1, 1, 10, inf)
const fitX1 = [5.28,5.45,5.65,5.82,6.00,6.18,6.36,6.60,6.85,7.10,7.43,7.78,8.14,8.49,8.73,8.97];
const fitY1 = [
  [4.32,4.19,4.06,3.93,3.80,3.73,3.69,3.72,3.81,3.89,4.02,4.12,4.23,4.42,4.59,4.74],
  [4.07,4.04,3.99,3.89,3.78,3.72,3.69,3.72,3.81,3.89,4.02,4.12,4.23,4.42,4.59,4.74],
  [3.95,3.95,3.93,3.86,3.77,3.71,3.69,3.72,3.81,3.89,4.02,4.12,4.22,4.41,4.59,4.75],
  [3.83,3.82,3.78,3.74,3.71,3.69,3.68,3.72,3.81,3.89,4.02,4.12,4.22,4.41,4.59,4.74],
  [3.725,3.67,3.62,3.605,3.60,3.62,3.65,3.71,3.80,3.89,4.02,4.12,4.23,4.42,4.59,4.73],
];
const fitX2 = [4.88,5.23,5.54,5.91,6.22,6.62,7.02,7.33,7.54,7.85,8.16,8.40,8.64];
const fitY2 = [
  [4.19,3.94,3.85,3.785,3.81,3.91,4.07,4.23,4.42,4.66,4.91,5.02,5.11],
  [4.18,3.94,3.85,3.785,3.81,3.91,4.07,4.23,4.42,4.66,4.89,4.99,5.06],
  [4.16,3.94,3.85,3.79,3.81,3.91,4.07,4.23,4.42,4.63,4.835,4.92,4.98],
  [4.12,3.95,3.87,3.84,3.84,3.92,4.07,4.22,4.36,4.53,4.67,4.76,4.84],
  [4.08,3.975,3.91,3.87,3.85,3.925,4.08,4.25,4.32,4.41,4.55,4.65,4.74],
];
const fitX3 = [5.09,5.42,5.69,5.99,6.29,6.59,6.89,7.19,7.49,7.78,7.99,8.17,8.41];
const fitY3 = [
  [4.25,4.31,4.25,4.08,3.89,3.81,3.96,4.19,4.26,4.15,4.03,4.15,4.41],
  [4.27,4.33,4.25,4.08,3.89,3.81,3.96,4.19,4.26,4.15,4.05,4.08,4.27],
  [4.18,4.255,4.22,4.04,3.91,3.83,3.95,4.17,4.25,4.21,4.13,4.14,4.255],
  [4.05,4.065,4.04,3.97,3.87,3.86,3.96,4.10,4.20,4.25,4.29,4.34,4.445],
  [3.96,3.87,3.80,3.775,3.80,3.87,3.98,4.12,4.21,4.30,4.37,4.43,4.55],
];
const fitX4 = [5.18,5.40,5.62,5.85,6.19,6.42,6.66,6.90,7.14,7.37,7.49,7.61,7.69,7.77,7.85,7.92,7.99,8.08];
const fitY4 = [
  [4.06,3.96,3.88,3.86,3.95,4.05,4.11,4.19,4.36,4.65,4.98,5.20,5.24,5.17,5.03,4.75,4.30,3.34],
  [4.04,3.97,3.90,3.88,3.95,4.02,4.10,4.19,4.34,4.50,4.59,4.70,4.76,4.82,4.91,4.96,4.99,5.01],
  [4.07,3.99,3.92,3.90,3.95,4.02,4.10,4.19,4.34,4.48,4.56,4.65,4.71,4.78,4.86,4.91,4.94,4.98],
  [4.10,4.01,3.94,3.92,3.95,4.00,4.09,4.19,4.33,4.47,4.52,4.58,4.62,4.66,4.70,4.72,4.73,4.75],
  [4.14,4.06,4.02,3.99,3.99,4.00,4.07,4.16,4.29,4.37,4.41,4.45,4.48,4.51,4.54,4.56,4.58,4.60],
];

const flatten = (rows: Row[]): Pt[] => rows.flatMap(([ly, xs]) => xs.map((lx) => [lx, ly] as Pt));

const facetPoints: Pt[][] = [
  [...flatten(rows1), ...loose1],
  [...flatten(rows2), ...loose2],
  loose3,
  [...flatten(rows4), ...loose4],
];
const facetFitX = [fitX1, fitX2, fitX3, fitX4];
const facetFitY = [fitY1, fitY2, fitY3, fitY4];

const FONT = "'Liberation Sans', Arial, Helvetica, sans-serif";

export default function App() {
  const svgRef = useRef<SVGSVGElement>(null);

  useEffect(() => {
    if (!svgRef.current) return;
    const width = 2688;
    const height = 672;
    const panelW = 630;
    const panelGap = 16;
    const left = 104.5;
    const stripTop = 120.5;
    const plotTop = 164;
    const plotBottom = 587;

    const svg = d3.select(svgRef.current);
    svg.selectAll("*").remove();
    svg.attr("width", width).attr("height", height).attr("viewBox", `0 0 ${width} ${height}`);
    svg.append("rect").attr("width", width).attr("height", height).attr("fill", "#ffffff");

    const y = d3.scaleLinear().domain([1.8, 6.2]).range([plotBottom, plotTop]);
    const defs = svg.append("defs");

    facetLabels.forEach((label, i) => {
      const x0 = left + i * (panelW + panelGap);
      const x = d3.scaleLinear().domain([4.684, 9.165]).range([x0, x0 + panelW]);

      defs
        .append("clipPath")
        .attr("id", `clip-${i}`)
        .append("rect")
        .attr("x", x0)
        .attr("y", plotTop)
        .attr("width", panelW)
        .attr("height", plotBottom - plotTop);

      const g = svg.append("g");

      // Grid
      const grid = g.append("g").attr("stroke", "#EBEBEB");
      xMinor.forEach((v) =>
        grid.append("line").attr("x1", x(v)).attr("x2", x(v)).attr("y1", plotTop).attr("y2", plotBottom).attr("stroke-width", 1.4)
      );
      yMinor.forEach((v) =>
        grid.append("line").attr("x1", x0).attr("x2", x0 + panelW).attr("y1", y(v)).attr("y2", y(v)).attr("stroke-width", 1.4)
      );
      xMajor.forEach((v) =>
        grid.append("line").attr("x1", x(v)).attr("x2", x(v)).attr("y1", plotTop).attr("y2", plotBottom).attr("stroke-width", 2.8)
      );
      yMajor.forEach((v) =>
        grid.append("line").attr("x1", x0).attr("x2", x0 + panelW).attr("y1", y(v)).attr("y2", y(v)).attr("stroke-width", 2.8)
      );

      // Points
      const data = g.append("g").attr("clip-path", `url(#clip-${i})`);
      data
        .selectAll("circle")
        .data(facetPoints[i])
        .enter()
        .append("circle")
        .attr("cx", (d) => x(d[0]))
        .attr("cy", (d) => y(d[1]))
        .attr("r", 5.5)
        .attr("fill", "#000000");

      // Fitted curves
      const line = d3
        .line<[number, number]>()
        .x((d) => x(d[0]))
        .y((d) => y(d[1]))
        .curve(d3.curveCatmullRom.alpha(0.5));
      facetFitY[i].forEach((series, k) => {
        const pts = facetFitX[i].map((xv, j) => [xv, series[j]] as [number, number]);
        data
          .append("path")
          .datum(pts)
          .attr("fill", "none")
          .attr("stroke", lambdaColors[k])
          .attr("stroke-width", 5.2)
          .attr("d", line);
      });

      // Panel border
      g.append("rect")
        .attr("x", x0)
        .attr("y", plotTop)
        .attr("width", panelW)
        .attr("height", plotBottom - plotTop)
        .attr("fill", "none")
        .attr("stroke", "#333333")
        .attr("stroke-width", 2.8);

      // Strip
      g.append("rect")
        .attr("x", x0)
        .attr("y", stripTop)
        .attr("width", panelW)
        .attr("height", plotTop - stripTop)
        .attr("fill", "#D9D9D9")
        .attr("stroke", "#333333")
        .attr("stroke-width", 2.8);
      g.append("text")
        .attr("x", x0 + panelW / 2)
        .attr("y", 151)
        .attr("text-anchor", "middle")
        .attr("font-family", FONT)
        .attr("font-size", 23.3)
        .attr("fill", "#1A1A1A")
        .text(label);

      // x axis
      xMajor.forEach((v, k) => {
        g.append("line")
          .attr("x1", x(v))
          .attr("x2", x(v))
          .attr("y1", plotBottom)
          .attr("y2", plotBottom + 7.3)
          .attr("stroke", "#333333")
          .attr("stroke-width", 2.8);
        g.append("text")
          .attr("x", x(v))
          .attr("y", 618)
          .attr("text-anchor", "middle")
          .attr("font-family", FONT)
          .attr("font-size", 23.3)
          .attr("fill", "#4D4D4D")
          .text(xMajorLabels[k]);
      });

      // y axis only on the first facet
      if (i === 0) {
        yMajor.forEach((v, k) => {
          g.append("line")
            .attr("x1", x0 - 7.3)
            .attr("x2", x0)
            .attr("y1", y(v))
            .attr("y2", y(v))
            .attr("stroke", "#333333")
            .attr("stroke-width", 2.8);
          g.append("text")
            .attr("x", 90)
            .attr("y", y(v) + 8.3)
            .attr("text-anchor", "end")
            .attr("font-family", FONT)
            .attr("font-size", 23.3)
            .attr("fill", "#4D4D4D")
            .text(yMajorLabels[k]);
        });
      }
    });

    // Axis titles
    const centerX = left + (4 * panelW + 3 * panelGap) / 2;
    svg
      .append("text")
      .attr("x", centerX)
      .attr("y", 652)
      .attr("text-anchor", "middle")
      .attr("font-family", FONT)
      .attr("font-size", 29)
      .attr("fill", "#000000")
      .text("Insurance sum (DKK)");
    svg
      .append("text")
      .attr("transform", `translate(35,${(plotTop + plotBottom) / 2}) rotate(-90)`)
      .attr("text-anchor", "middle")
      .attr("font-family", FONT)
      .attr("font-size", 29)
      .attr("fill", "#000000")
      .text("Claim size (DKK)");

    // Legend (top, centred)
    const legend = svg.append("g");
    const title = legend
      .append("text")
      .attr("y", 62.5)
      .attr("font-family", FONT)
      .attr("font-size", 29)
      .attr("fill", "#000000")
      .text("lambda");
    const labels = lambdaLabels.map((t) =>
      legend
        .append("text")
        .attr("y", 61)
        .attr("font-family", FONT)
        .attr("font-size", 23.3)
        .attr("fill", "#000000")
        .text(t)
    );
    const titleW = (title.node() as SVGTextElement).getComputedTextLength();
    const labelW = labels.map((l) => (l.node() as SVGTextElement).getComputedTextLength());
    const keyW = 46.8;
    const afterTitle = 14.7;
    const keyToLabel = 13.4;
    const labelToKey = 16.5;
    const total =
      titleW + afterTitle + d3.sum(labelW) + lambdaLabels.length * (keyW + keyToLabel) + (lambdaLabels.length - 1) * labelToKey;
    let cx = centerX - total / 2;
    title.attr("x", cx);
    cx += titleW + afterTitle;
    lambdaLabels.forEach((_, k) => {
      legend
        .append("line")
        .attr("x1", cx + keyW * 0.1)
        .attr("x2", cx + keyW * 0.9)
        .attr("y1", 52.5)
        .attr("y2", 52.5)
        .attr("stroke", lambdaColors[k])
        .attr("stroke-width", 5.2);
      cx += keyW + keyToLabel;
      labels[k].attr("x", cx);
      cx += labelW[k] + labelToKey;
    });
  }, []);

  return (
    <svg
      ref={svgRef}
      width={2688}
      height={672}
      style={{ position: "absolute", left: 0, top: 0, display: "block" }}
    />
  );
}
